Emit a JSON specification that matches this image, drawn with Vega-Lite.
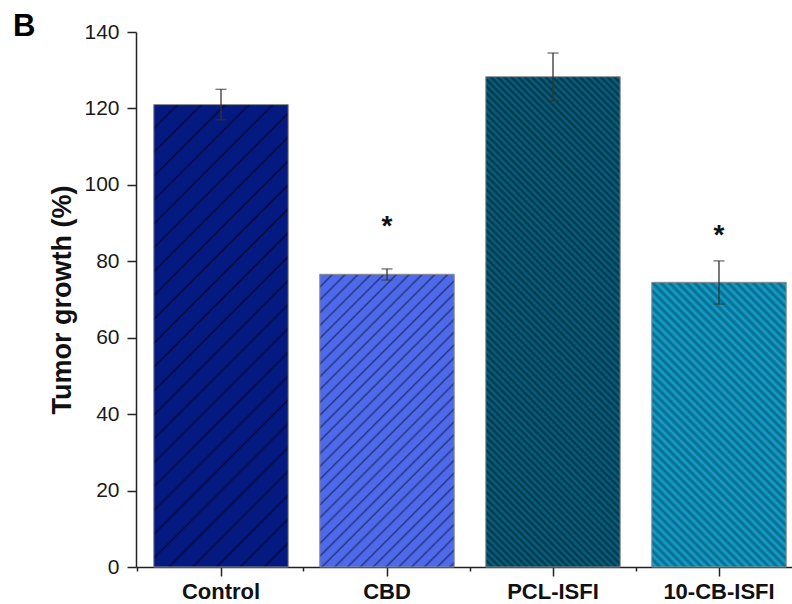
{
  "$schema": "https://vega.github.io/schema/vega-lite/v6.json",
  "width": 656,
  "height": 535,
  "autosize": {"type": "none"},
  "padding": {"left": 136, "top": 32, "right": 0, "bottom": 37},
  "background": "white",
  "title": {"text": "B", "anchor": "start", "frame": "group", "orient": "top", "offset": 0, "baseline": "alphabetic", "dx": -123, "dy": 46, "fontSize": 31, "fontWeight": "bold", "font": "Liberation Sans", "color": "#000000"},
  "config": {"view": {"stroke": null}, "font": "Liberation Sans"},
  "data": {
    "values": [
      {"group": "Control", "mean": 121.0, "lo": 117.0, "hi": 125.0, "star": null},
      {"group": "CBD", "mean": 76.6, "lo": 75.1, "hi": 78.0, "star": 86.9},
      {"group": "PCL-ISFI", "mean": 128.3, "lo": 122.0, "hi": 134.5, "star": null},
      {"group": "10-CB-ISFI", "mean": 74.5, "lo": 68.8, "hi": 80.1, "star": 84.6}
    ]
  },
  "layer": [
    {
      "mark": {"type": "bar", "stroke": "#8c8c8c", "strokeWidth": 1},
      "encoding": {
        "x": {"field": "group", "type": "nominal", "sort": null,
          "scale": {"domain": ["Control", "CBD", "PCL-ISFI", "10-CB-ISFI"], "paddingInner": 0.19, "paddingOuter": 0.0709, "align": 0.755},
          "axis": {"title": null, "labelAngle": 0, "labelFont": "Liberation Sans", "labelFontSize": 22, "labelFontWeight": "bold", "labelColor": "#111111", "labelPadding": 5, "tickSize": 9, "tickWidth": 1.5, "tickColor": "#222222", "domainColor": "#222222", "domainWidth": 1.5, "grid": false}},
        "y": {"field": "mean", "type": "quantitative",
          "scale": {"domain": [0, 140], "nice": false, "zero": true},
          "axis": {"title": "Tumor growth (%)", "values": [0, 10, 20, 30, 40, 50, 60, 70, 80, 90, 100, 110, 120, 130, 140],
            "labelExpr": "datum.value % 20 === 0 ? datum.label : ''",
            "tickSize": {"condition": {"test": "datum.value % 20 === 0", "value": 9}, "value": 4},
            "tickWidth": 1.5, "tickColor": "#222222", "domainColor": "#222222", "domainWidth": 1.5, "grid": false,
            "labelFont": "Liberation Sans", "labelFontSize": 21, "labelColor": "#1a1a1a", "labelPadding": 8,
            "titleFont": "Liberation Sans", "titleFontSize": 27, "titleFontWeight": "bold", "titleColor": "#111111", "titlePadding": 7}},
        "fill": {
          "condition": [
            {"test": "datum.group === 'Control'", "value": {"gradient": "linear", "x1": 0, "y1": 0, "x2": 0.3462, "y2": 1.19, "stops": [
              {"offset": 0, "color": "#020a45"}, {"offset": 0.004, "color": "#051a80"}, {"offset": 0.036, "color": "#051a80"},
              {"offset": 0.04, "color": "#020a45"}, {"offset": 0.044, "color": "#051a80"}, {"offset": 0.076, "color": "#051a80"},
              {"offset": 0.08, "color": "#020a45"}, {"offset": 0.084, "color": "#051a80"}, {"offset": 0.116, "color": "#051a80"},
              {"offset": 0.12, "color": "#020a45"}, {"offset": 0.124, "color": "#051a80"}, {"offset": 0.156, "color": "#051a80"},
              {"offset": 0.16, "color": "#020a45"}, {"offset": 0.164, "color": "#051a80"}, {"offset": 0.196, "color": "#051a80"},
              {"offset": 0.2, "color": "#020a45"}, {"offset": 0.204, "color": "#051a80"}, {"offset": 0.236, "color": "#051a80"},
              {"offset": 0.24, "color": "#020a45"}, {"offset": 0.244, "color": "#051a80"}, {"offset": 0.276, "color": "#051a80"},
              {"offset": 0.28, "color": "#020a45"}, {"offset": 0.284, "color": "#051a80"}, {"offset": 0.316, "color": "#051a80"},
              {"offset": 0.32, "color": "#020a45"}, {"offset": 0.324, "color": "#051a80"}, {"offset": 0.356, "color": "#051a80"},
              {"offset": 0.36, "color": "#020a45"}, {"offset": 0.364, "color": "#051a80"}, {"offset": 0.396, "color": "#051a80"},
              {"offset": 0.4, "color": "#020a45"}, {"offset": 0.404, "color": "#051a80"}, {"offset": 0.436, "color": "#051a80"},
              {"offset": 0.44, "color": "#020a45"}, {"offset": 0.444, "color": "#051a80"}, {"offset": 0.476, "color": "#051a80"},
              {"offset": 0.48, "color": "#020a45"}, {"offset": 0.484, "color": "#051a80"}, {"offset": 0.516, "color": "#051a80"},
              {"offset": 0.52, "color": "#020a45"}, {"offset": 0.524, "color": "#051a80"}, {"offset": 0.556, "color": "#051a80"},
              {"offset": 0.56, "color": "#020a45"}, {"offset": 0.564, "color": "#051a80"}, {"offset": 0.596, "color": "#051a80"},
              {"offset": 0.6, "color": "#020a45"}, {"offset": 0.604, "color": "#051a80"}, {"offset": 0.636, "color": "#051a80"},
              {"offset": 0.64, "color": "#020a45"}, {"offset": 0.644, "color": "#051a80"}, {"offset": 0.676, "color": "#051a80"},
              {"offset": 0.68, "color": "#020a45"}, {"offset": 0.684, "color": "#051a80"}, {"offset": 0.716, "color": "#051a80"},
              {"offset": 0.72, "color": "#020a45"}, {"offset": 0.724, "color": "#051a80"}, {"offset": 0.756, "color": "#051a80"},
              {"offset": 0.76, "color": "#020a45"}, {"offset": 0.764, "color": "#051a80"}, {"offset": 0.796, "color": "#051a80"},
              {"offset": 0.8, "color": "#020a45"}, {"offset": 0.804, "color": "#051a80"}, {"offset": 0.836, "color": "#051a80"},
              {"offset": 0.84, "color": "#020a45"}, {"offset": 0.844, "color": "#051a80"}, {"offset": 0.876, "color": "#051a80"},
              {"offset": 0.88, "color": "#020a45"}, {"offset": 0.884, "color": "#051a80"}, {"offset": 0.916, "color": "#051a80"},
              {"offset": 0.92, "color": "#020a45"}, {"offset": 0.924, "color": "#051a80"}, {"offset": 0.956, "color": "#051a80"},
              {"offset": 0.96, "color": "#020a45"}, {"offset": 0.964, "color": "#051a80"}, {"offset": 0.996, "color": "#051a80"},
              {"offset": 1, "color": "#020a45"}]}},
            {"test": "datum.group === 'CBD'", "value": {"gradient": "linear", "x1": 0, "y1": 0, "x2": 0.5538, "y2": 1.2051, "stops": [
              {"offset": 0, "color": "#23368a"}, {"offset": 0.005, "color": "#4f6ae8"}, {"offset": 0.025, "color": "#4f6ae8"},
              {"offset": 0.03, "color": "#23368a"}, {"offset": 0.035, "color": "#4f6ae8"}, {"offset": 0.055, "color": "#4f6ae8"},
              {"offset": 0.06, "color": "#23368a"}, {"offset": 0.065, "color": "#4f6ae8"}, {"offset": 0.085, "color": "#4f6ae8"},
              {"offset": 0.09, "color": "#23368a"}, {"offset": 0.095, "color": "#4f6ae8"}, {"offset": 0.115, "color": "#4f6ae8"},
              {"offset": 0.12, "color": "#23368a"}, {"offset": 0.125, "color": "#4f6ae8"}, {"offset": 0.145, "color": "#4f6ae8"},
              {"offset": 0.15, "color": "#23368a"}, {"offset": 0.155, "color": "#4f6ae8"}, {"offset": 0.175, "color": "#4f6ae8"},
              {"offset": 0.18, "color": "#23368a"}, {"offset": 0.185, "color": "#4f6ae8"}, {"offset": 0.205, "color": "#4f6ae8"},
              {"offset": 0.21, "color": "#23368a"}, {"offset": 0.215, "color": "#4f6ae8"}, {"offset": 0.235, "color": "#4f6ae8"},
              {"offset": 0.24, "color": "#23368a"}, {"offset": 0.245, "color": "#4f6ae8"}, {"offset": 0.265, "color": "#4f6ae8"},
              {"offset": 0.27, "color": "#23368a"}, {"offset": 0.275, "color": "#4f6ae8"}, {"offset": 0.295, "color": "#4f6ae8"},
              {"offset": 0.3, "color": "#23368a"}, {"offset": 0.305, "color": "#4f6ae8"}, {"offset": 0.325, "color": "#4f6ae8"},
              {"offset": 0.33, "color": "#23368a"}, {"offset": 0.335, "color": "#4f6ae8"}, {"offset": 0.355, "color": "#4f6ae8"},
              {"offset": 0.36, "color": "#23368a"}, {"offset": 0.365, "color": "#4f6ae8"}, {"offset": 0.385, "color": "#4f6ae8"},
              {"offset": 0.39, "color": "#23368a"}, {"offset": 0.395, "color": "#4f6ae8"}, {"offset": 0.415, "color": "#4f6ae8"},
              {"offset": 0.42, "color": "#23368a"}, {"offset": 0.425, "color": "#4f6ae8"}, {"offset": 0.445, "color": "#4f6ae8"},
              {"offset": 0.45, "color": "#23368a"}, {"offset": 0.455, "color": "#4f6ae8"}, {"offset": 0.475, "color": "#4f6ae8"},
              {"offset": 0.48, "color": "#23368a"}, {"offset": 0.485, "color": "#4f6ae8"}, {"offset": 0.505, "color": "#4f6ae8"},
              {"offset": 0.51, "color": "#23368a"}, {"offset": 0.515, "color": "#4f6ae8"}, {"offset": 0.535, "color": "#4f6ae8"},
              {"offset": 0.54, "color": "#23368a"}, {"offset": 0.545, "color": "#4f6ae8"}, {"offset": 0.565, "color": "#4f6ae8"},
              {"offset": 0.57, "color": "#23368a"}, {"offset": 0.575, "color": "#4f6ae8"}, {"offset": 0.595, "color": "#4f6ae8"},
              {"offset": 0.6, "color": "#23368a"}, {"offset": 0.605, "color": "#4f6ae8"}, {"offset": 0.625, "color": "#4f6ae8"},
              {"offset": 0.63, "color": "#23368a"}, {"offset": 0.635, "color": "#4f6ae8"}, {"offset": 0.655, "color": "#4f6ae8"},
              {"offset": 0.66, "color": "#23368a"}, {"offset": 0.665, "color": "#4f6ae8"}, {"offset": 0.685, "color": "#4f6ae8"},
              {"offset": 0.69, "color": "#23368a"}, {"offset": 0.695, "color": "#4f6ae8"}, {"offset": 0.715, "color": "#4f6ae8"},
              {"offset": 0.72, "color": "#23368a"}, {"offset": 0.725, "color": "#4f6ae8"}, {"offset": 0.745, "color": "#4f6ae8"},
              {"offset": 0.75, "color": "#23368a"}, {"offset": 0.755, "color": "#4f6ae8"}, {"offset": 0.775, "color": "#4f6ae8"},
              {"offset": 0.78, "color": "#23368a"}, {"offset": 0.785, "color": "#4f6ae8"}, {"offset": 0.805, "color": "#4f6ae8"},
              {"offset": 0.81, "color": "#23368a"}, {"offset": 0.815, "color": "#4f6ae8"}, {"offset": 0.835, "color": "#4f6ae8"},
              {"offset": 0.84, "color": "#23368a"}, {"offset": 0.845, "color": "#4f6ae8"}, {"offset": 0.865, "color": "#4f6ae8"},
              {"offset": 0.87, "color": "#23368a"}, {"offset": 0.875, "color": "#4f6ae8"}, {"offset": 0.895, "color": "#4f6ae8"},
              {"offset": 0.9, "color": "#23368a"}, {"offset": 0.905, "color": "#4f6ae8"}, {"offset": 0.925, "color": "#4f6ae8"},
              {"offset": 0.93, "color": "#23368a"}, {"offset": 0.935, "color": "#4f6ae8"}, {"offset": 0.955, "color": "#4f6ae8"},
              {"offset": 0.96, "color": "#23368a"}, {"offset": 0.965, "color": "#4f6ae8"}, {"offset": 0.985, "color": "#4f6ae8"},
              {"offset": 0.99, "color": "#23368a"}, {"offset": 0.995, "color": "#4f6ae8"}, {"offset": 1, "color": "#4f6ae8"}]}},
            {"test": "datum.group === 'PCL-ISFI'", "value": {"gradient": "linear", "x1": 0, "y1": 1, "x2": 0.3252, "y2": -0.1853, "stops": [
              {"offset": 0, "color": "#033446"}, {"offset": 0.0055, "color": "#066484"}, {"offset": 0.011, "color": "#033446"}, {"offset": 0.0165, "color": "#066484"},
              {"offset": 0.022, "color": "#033446"}, {"offset": 0.0275, "color": "#066484"}, {"offset": 0.033, "color": "#033446"}, {"offset": 0.0385, "color": "#066484"},
              {"offset": 0.044, "color": "#033446"}, {"offset": 0.0495, "color": "#066484"}, {"offset": 0.055, "color": "#033446"}, {"offset": 0.0605, "color": "#066484"},
              {"offset": 0.066, "color": "#033446"}, {"offset": 0.0715, "color": "#066484"}, {"offset": 0.077, "color": "#033446"}, {"offset": 0.0825, "color": "#066484"},
              {"offset": 0.088, "color": "#033446"}, {"offset": 0.0935, "color": "#066484"}, {"offset": 0.099, "color": "#033446"}, {"offset": 0.1045, "color": "#066484"},
              {"offset": 0.11, "color": "#033446"}, {"offset": 0.1155, "color": "#066484"}, {"offset": 0.121, "color": "#033446"}, {"offset": 0.1265, "color": "#066484"},
              {"offset": 0.132, "color": "#033446"}, {"offset": 0.1375, "color": "#066484"}, {"offset": 0.143, "color": "#033446"}, {"offset": 0.1485, "color": "#066484"},
              {"offset": 0.154, "color": "#033446"}, {"offset": 0.1595, "color": "#066484"}, {"offset": 0.165, "color": "#033446"}, {"offset": 0.1705, "color": "#066484"},
              {"offset": 0.176, "color": "#033446"}, {"offset": 0.1815, "color": "#066484"}, {"offset": 0.187, "color": "#033446"}, {"offset": 0.1925, "color": "#066484"},
              {"offset": 0.198, "color": "#033446"}, {"offset": 0.2035, "color": "#066484"}, {"offset": 0.209, "color": "#033446"}, {"offset": 0.2145, "color": "#066484"},
              {"offset": 0.22, "color": "#033446"}, {"offset": 0.2255, "color": "#066484"}, {"offset": 0.231, "color": "#033446"}, {"offset": 0.2365, "color": "#066484"},
              {"offset": 0.242, "color": "#033446"}, {"offset": 0.2475, "color": "#066484"}, {"offset": 0.253, "color": "#033446"}, {"offset": 0.2585, "color": "#066484"},
              {"offset": 0.264, "color": "#033446"}, {"offset": 0.2695, "color": "#066484"}, {"offset": 0.275, "color": "#033446"}, {"offset": 0.2805, "color": "#066484"},
              {"offset": 0.286, "color": "#033446"}, {"offset": 0.2915, "color": "#066484"}, {"offset": 0.297, "color": "#033446"}, {"offset": 0.3025, "color": "#066484"},
              {"offset": 0.308, "color": "#033446"}, {"offset": 0.3135, "color": "#066484"}, {"offset": 0.319, "color": "#033446"}, {"offset": 0.3245, "color": "#066484"},
              {"offset": 0.33, "color": "#033446"}, {"offset": 0.3355, "color": "#066484"}, {"offset": 0.341, "color": "#033446"}, {"offset": 0.3465, "color": "#066484"},
              {"offset": 0.352, "color": "#033446"}, {"offset": 0.3575, "color": "#066484"}, {"offset": 0.363, "color": "#033446"}, {"offset": 0.3685, "color": "#066484"},
              {"offset": 0.374, "color": "#033446"}, {"offset": 0.3795, "color": "#066484"}, {"offset": 0.385, "color": "#033446"}, {"offset": 0.3905, "color": "#066484"},
              {"offset": 0.396, "color": "#033446"}, {"offset": 0.4015, "color": "#066484"}, {"offset": 0.407, "color": "#033446"}, {"offset": 0.4125, "color": "#066484"},
              {"offset": 0.418, "color": "#033446"}, {"offset": 0.4235, "color": "#066484"}, {"offset": 0.429, "color": "#033446"}, {"offset": 0.4345, "color": "#066484"},
              {"offset": 0.44, "color": "#033446"}, {"offset": 0.4455, "color": "#066484"}, {"offset": 0.451, "color": "#033446"}, {"offset": 0.4565, "color": "#066484"},
              {"offset": 0.462, "color": "#033446"}, {"offset": 0.4675, "color": "#066484"}, {"offset": 0.473, "color": "#033446"}, {"offset": 0.4785, "color": "#066484"},
              {"offset": 0.484, "color": "#033446"}, {"offset": 0.4895, "color": "#066484"}, {"offset": 0.495, "color": "#033446"}, {"offset": 0.5005, "color": "#066484"},
              {"offset": 0.506, "color": "#033446"}, {"offset": 0.5115, "color": "#066484"}, {"offset": 0.517, "color": "#033446"}, {"offset": 0.5225, "color": "#066484"},
              {"offset": 0.528, "color": "#033446"}, {"offset": 0.5335, "color": "#066484"}, {"offset": 0.539, "color": "#033446"}, {"offset": 0.5445, "color": "#066484"},
              {"offset": 0.55, "color": "#033446"}, {"offset": 0.5555, "color": "#066484"}, {"offset": 0.561, "color": "#033446"}, {"offset": 0.5665, "color": "#066484"},
              {"offset": 0.572, "color": "#033446"}, {"offset": 0.5775, "color": "#066484"}, {"offset": 0.583, "color": "#033446"}, {"offset": 0.5885, "color": "#066484"},
              {"offset": 0.594, "color": "#033446"}, {"offset": 0.5995, "color": "#066484"}, {"offset": 0.605, "color": "#033446"}, {"offset": 0.6105, "color": "#066484"},
              {"offset": 0.616, "color": "#033446"}, {"offset": 0.6215, "color": "#066484"}, {"offset": 0.627, "color": "#033446"}, {"offset": 0.6325, "color": "#066484"},
              {"offset": 0.638, "color": "#033446"}, {"offset": 0.6435, "color": "#066484"}, {"offset": 0.649, "color": "#033446"}, {"offset": 0.6545, "color": "#066484"},
              {"offset": 0.66, "color": "#033446"}, {"offset": 0.6655, "color": "#066484"}, {"offset": 0.671, "color": "#033446"}, {"offset": 0.6765, "color": "#066484"},
              {"offset": 0.682, "color": "#033446"}, {"offset": 0.6875, "color": "#066484"}, {"offset": 0.693, "color": "#033446"}, {"offset": 0.6985, "color": "#066484"},
              {"offset": 0.704, "color": "#033446"}, {"offset": 0.7095, "color": "#066484"}, {"offset": 0.715, "color": "#033446"}, {"offset": 0.7205, "color": "#066484"},
              {"offset": 0.726, "color": "#033446"}, {"offset": 0.7315, "color": "#066484"}, {"offset": 0.737, "color": "#033446"}, {"offset": 0.7425, "color": "#066484"},
              {"offset": 0.748, "color": "#033446"}, {"offset": 0.7535, "color": "#066484"}, {"offset": 0.759, "color": "#033446"}, {"offset": 0.7645, "color": "#066484"},
              {"offset": 0.77, "color": "#033446"}, {"offset": 0.7755, "color": "#066484"}, {"offset": 0.781, "color": "#033446"}, {"offset": 0.7865, "color": "#066484"},
              {"offset": 0.792, "color": "#033446"}, {"offset": 0.7975, "color": "#066484"}, {"offset": 0.803, "color": "#033446"}, {"offset": 0.8085, "color": "#066484"},
              {"offset": 0.814, "color": "#033446"}, {"offset": 0.8195, "color": "#066484"}, {"offset": 0.825, "color": "#033446"}, {"offset": 0.8305, "color": "#066484"},
              {"offset": 0.836, "color": "#033446"}, {"offset": 0.8415, "color": "#066484"}, {"offset": 0.847, "color": "#033446"}, {"offset": 0.8525, "color": "#066484"},
              {"offset": 0.858, "color": "#033446"}, {"offset": 0.8635, "color": "#066484"}, {"offset": 0.869, "color": "#033446"}, {"offset": 0.8745, "color": "#066484"},
              {"offset": 0.88, "color": "#033446"}, {"offset": 0.8855, "color": "#066484"}, {"offset": 0.891, "color": "#033446"}, {"offset": 0.8965, "color": "#066484"},
              {"offset": 0.902, "color": "#033446"}, {"offset": 0.9075, "color": "#066484"}, {"offset": 0.913, "color": "#033446"}, {"offset": 0.9185, "color": "#066484"},
              {"offset": 0.924, "color": "#033446"}, {"offset": 0.9295, "color": "#066484"}, {"offset": 0.935, "color": "#033446"}, {"offset": 0.9405, "color": "#066484"},
              {"offset": 0.946, "color": "#033446"}, {"offset": 0.9515, "color": "#066484"}, {"offset": 0.957, "color": "#033446"}, {"offset": 0.9625, "color": "#066484"},
              {"offset": 0.968, "color": "#033446"}, {"offset": 0.9735, "color": "#066484"}, {"offset": 0.979, "color": "#033446"}, {"offset": 0.9845, "color": "#066484"},
              {"offset": 0.99, "color": "#033446"}, {"offset": 0.9955, "color": "#066484"}, {"offset": 1, "color": "#066484"}]}}
          ],
          "value": {"gradient": "linear", "x1": 0, "y1": 1, "x2": 0.5687, "y2": -0.2037, "stops": [
            {"offset": 0, "color": "#09678a"}, {"offset": 0.01, "color": "#14a3cc"}, {"offset": 0.02, "color": "#09678a"}, {"offset": 0.03, "color": "#14a3cc"},
            {"offset": 0.04, "color": "#09678a"}, {"offset": 0.05, "color": "#14a3cc"}, {"offset": 0.06, "color": "#09678a"}, {"offset": 0.07, "color": "#14a3cc"},
            {"offset": 0.08, "color": "#09678a"}, {"offset": 0.09, "color": "#14a3cc"}, {"offset": 0.1, "color": "#09678a"}, {"offset": 0.11, "color": "#14a3cc"},
            {"offset": 0.12, "color": "#09678a"}, {"offset": 0.13, "color": "#14a3cc"}, {"offset": 0.14, "color": "#09678a"}, {"offset": 0.15, "color": "#14a3cc"},
            {"offset": 0.16, "color": "#09678a"}, {"offset": 0.17, "color": "#14a3cc"}, {"offset": 0.18, "color": "#09678a"}, {"offset": 0.19, "color": "#14a3cc"},
            {"offset": 0.2, "color": "#09678a"}, {"offset": 0.21, "color": "#14a3cc"}, {"offset": 0.22, "color": "#09678a"}, {"offset": 0.23, "color": "#14a3cc"},
            {"offset": 0.24, "color": "#09678a"}, {"offset": 0.25, "color": "#14a3cc"}, {"offset": 0.26, "color": "#09678a"}, {"offset": 0.27, "color": "#14a3cc"},
            {"offset": 0.28, "color": "#09678a"}, {"offset": 0.29, "color": "#14a3cc"}, {"offset": 0.3, "color": "#09678a"}, {"offset": 0.31, "color": "#14a3cc"},
            {"offset": 0.32, "color": "#09678a"}, {"offset": 0.33, "color": "#14a3cc"}, {"offset": 0.34, "color": "#09678a"}, {"offset": 0.35, "color": "#14a3cc"},
            {"offset": 0.36, "color": "#09678a"}, {"offset": 0.37, "color": "#14a3cc"}, {"offset": 0.38, "color": "#09678a"}, {"offset": 0.39, "color": "#14a3cc"},
            {"offset": 0.4, "color": "#09678a"}, {"offset": 0.41, "color": "#14a3cc"}, {"offset": 0.42, "color": "#09678a"}, {"offset": 0.43, "color": "#14a3cc"},
            {"offset": 0.44, "color": "#09678a"}, {"offset": 0.45, "color": "#14a3cc"}, {"offset": 0.46, "color": "#09678a"}, {"offset": 0.47, "color": "#14a3cc"},
            {"offset": 0.48, "color": "#09678a"}, {"offset": 0.49, "color": "#14a3cc"}, {"offset": 0.5, "color": "#09678a"}, {"offset": 0.51, "color": "#14a3cc"},
            {"offset": 0.52, "color": "#09678a"}, {"offset": 0.53, "color": "#14a3cc"}, {"offset": 0.54, "color": "#09678a"}, {"offset": 0.55, "color": "#14a3cc"},
            {"offset": 0.56, "color": "#09678a"}, {"offset": 0.57, "color": "#14a3cc"}, {"offset": 0.58, "color": "#09678a"}, {"offset": 0.59, "color": "#14a3cc"},
            {"offset": 0.6, "color": "#09678a"}, {"offset": 0.61, "color": "#14a3cc"}, {"offset": 0.62, "color": "#09678a"}, {"offset": 0.63, "color": "#14a3cc"},
            {"offset": 0.64, "color": "#09678a"}, {"offset": 0.65, "color": "#14a3cc"}, {"offset": 0.66, "color": "#09678a"}, {"offset": 0.67, "color": "#14a3cc"},
            {"offset": 0.68, "color": "#09678a"}, {"offset": 0.69, "color": "#14a3cc"}, {"offset": 0.7, "color": "#09678a"}, {"offset": 0.71, "color": "#14a3cc"},
            {"offset": 0.72, "color": "#09678a"}, {"offset": 0.73, "color": "#14a3cc"}, {"offset": 0.74, "color": "#09678a"}, {"offset": 0.75, "color": "#14a3cc"},
            {"offset": 0.76, "color": "#09678a"}, {"offset": 0.77, "color": "#14a3cc"}, {"offset": 0.78, "color": "#09678a"}, {"offset": 0.79, "color": "#14a3cc"},
            {"offset": 0.8, "color": "#09678a"}, {"offset": 0.81, "color": "#14a3cc"}, {"offset": 0.82, "color": "#09678a"}, {"offset": 0.83, "color": "#14a3cc"},
            {"offset": 0.84, "color": "#09678a"}, {"offset": 0.85, "color": "#14a3cc"}, {"offset": 0.86, "color": "#09678a"}, {"offset": 0.87, "color": "#14a3cc"},
            {"offset": 0.88, "color": "#09678a"}, {"offset": 0.89, "color": "#14a3cc"}, {"offset": 0.9, "color": "#09678a"}, {"offset": 0.91, "color": "#14a3cc"},
            {"offset": 0.92, "color": "#09678a"}, {"offset": 0.93, "color": "#14a3cc"}, {"offset": 0.94, "color": "#09678a"}, {"offset": 0.95, "color": "#14a3cc"},
            {"offset": 0.96, "color": "#09678a"}, {"offset": 0.97, "color": "#14a3cc"}, {"offset": 0.98, "color": "#09678a"}, {"offset": 0.99, "color": "#14a3cc"},
            {"offset": 1, "color": "#09678a"}]}
        }
      }
    },
    {
      "mark": {"type": "rule", "color": "#333333", "strokeWidth": 1.3},
      "encoding": {
        "x": {"field": "group", "type": "nominal", "sort": null, "axis": null},
        "y": {"field": "lo", "type": "quantitative"},
        "y2": {"field": "hi"}
      }
    },
    {
      "mark": {"type": "tick", "orient": "horizontal", "color": "#333333", "size": 11, "thickness": 1.3},
      "encoding": {
        "x": {"field": "group", "type": "nominal", "sort": null, "axis": null},
        "y": {"field": "hi", "type": "quantitative"}
      }
    },
    {
      "mark": {"type": "tick", "orient": "horizontal", "color": "#333333", "size": 11, "thickness": 1.3},
      "encoding": {
        "x": {"field": "group", "type": "nominal", "sort": null, "axis": null},
        "y": {"field": "lo", "type": "quantitative"}
      }
    },
    {
      "transform": [{"filter": "datum.star != null"}],
      "mark": {"type": "text", "text": "*", "fontSize": 28, "fontWeight": "bold", "font": "Liberation Sans", "color": "#111111", "baseline": "alphabetic", "align": "center"},
      "encoding": {
        "x": {"field": "group", "type": "nominal", "sort": null,
          "axis": {"orient": "bottom", "bandPosition": -0.1173, "labels": false, "domain": false, "ticks": true, "tickSize": 4, "tickWidth": 1.5, "tickColor": "#222222", "title": null, "grid": false}},
        "y": {"field": "star", "type": "quantitative"}
      }
    }
  ],
  "resolve": {"axis": {"x": "independent"}}
}
